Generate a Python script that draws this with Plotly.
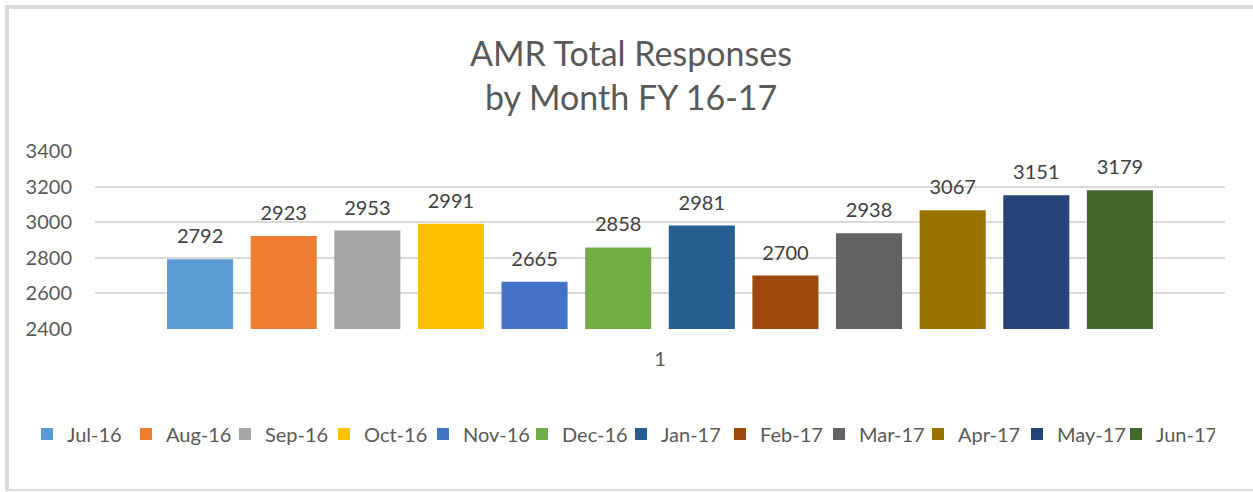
import plotly.graph_objects as go

months = ["Jul-16", "Aug-16", "Sep-16", "Oct-16", "Nov-16", "Dec-16",
          "Jan-17", "Feb-17", "Mar-17", "Apr-17", "May-17", "Jun-17"]
responses = [2792, 2923, 2953, 2991, 2665, 2858, 2981, 2700, 2938, 3067, 3151, 3179]
colors = ["#5B9BD5", "#ED7D31", "#A5A5A5", "#FFC000", "#4472C4", "#70AD47",
          "#255E91", "#9E480E", "#636363", "#997300", "#264478", "#43682B"]
category = ["1"]
y_ticks = [2400, 2600, 2800, 3000, 3200, 3400]
title_lines = ["AMR Total Responses", "by Month FY 16-17"]

FONT = "Lato"
W, H = 1253, 492
L, R, T, B = 95, 28, 151, 163

pw = W - L - R
ph = H - T - B
def px_x(p):  # page pixel -> paper x
    return (p - L) / pw
def px_y(p):  # page pixel -> paper y
    return (H - B - p) / ph

fig = go.Figure()
for m, v, c in zip(months, responses, colors):
    fig.add_trace(go.Bar(
        x=category, y=[v], name=m, offsetgroup=m, legendgroup=m,
        marker=dict(color=c, line=dict(width=0)), hoverinfo="name+y",
    ))
for m, v in zip(months, responses):
    fig.add_trace(go.Scatter(
        x=category, y=[v], name=m, offsetgroup=m, legendgroup=m, showlegend=False,
        mode="markers+text", text=[str(v)], textposition="top center",
        marker=dict(size=16, color="rgba(0,0,0,0)"), cliponaxis=False, hoverinfo="skip",
        textfont=dict(family=FONT, size=20, color="#404040"),
    ))

shapes = [
    dict(type="line", xref="paper", yref="paper", x0=px_x(7), x1=px_x(7), y0=px_y(5), y1=px_y(491),
         line=dict(color="#d9d9d9", width=4)),
    dict(type="line", xref="paper", yref="paper", x0=px_x(5), x1=px_x(1253), y0=px_y(7), y1=px_y(7),
         line=dict(color="#d9d9d9", width=4)),
    dict(type="line", xref="paper", yref="paper", x0=px_x(5), x1=px_x(1253), y0=px_y(490), y1=px_y(490),
         line=dict(color="#d9d9d9", width=2)),
]
annotations = [
    dict(text=title_lines[0], xref="paper", yref="paper", x=px_x(631), y=px_y(52),
         xanchor="center", yanchor="middle", showarrow=False,
         font=dict(family=FONT, size=34, color="#595959")),
    dict(text=title_lines[1], xref="paper", yref="paper", x=px_x(631), y=px_y(97),
         xanchor="center", yanchor="middle", showarrow=False,
         font=dict(family=FONT, size=34, color="#595959")),
]

fig.update_layout(
    width=W, height=H,
    margin=dict(l=L, r=R, t=T, b=B, pad=0, autoexpand=False),
    paper_bgcolor="white", plot_bgcolor="white",
    barmode="group", bargap=0.112, bargroupgap=0.21,
    scattermode="group", scattergap=0.112,
    font=dict(family=FONT, size=20, color="#595959"),
    showlegend=True,
    legend=dict(orientation="h", x=px_x(27), xanchor="left", y=px_y(434), yanchor="middle",
                entrywidth=54, entrywidthmode="pixels",
                font=dict(family=FONT, size=20, color="#595959"),
                bgcolor="rgba(0,0,0,0)", itemclick=False, tracegroupgap=0),
    shapes=shapes, annotations=annotations,
    xaxis=dict(type="category", showgrid=False, showline=False, ticks="outside", ticklen=12,
               tickcolor="rgba(0,0,0,0)", tickfont=dict(family=FONT, size=20, color="#595959")),
    yaxis=dict(range=[2400, 3400], tickvals=y_ticks, showgrid=True, gridcolor="#d9d9d9",
               gridwidth=1.5, zeroline=False, showline=False, ticklabelstandoff=22,
               tickfont=dict(family=FONT, size=20, color="#595959")),
)
fig.write_html(
    "out.html",
    config={"displayModeBar": False},
    post_script=("document.documentElement.style.margin='0';"
                 "document.documentElement.style.overflow='hidden';"
                 "document.body.style.margin='0';document.body.style.overflow='hidden';"),
)
